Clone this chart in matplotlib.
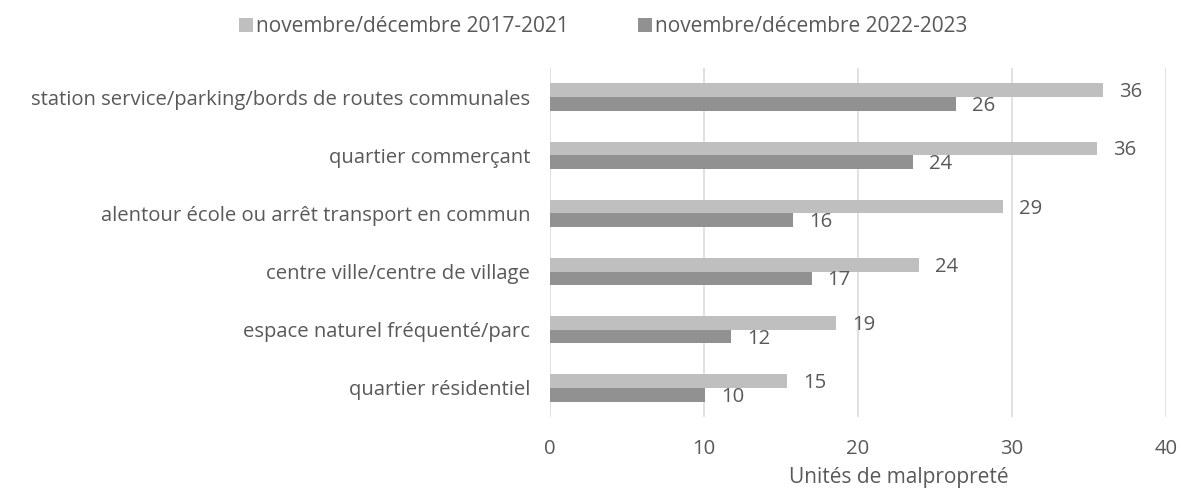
import matplotlib
matplotlib.use("Agg")
import matplotlib.pyplot as plt
from matplotlib.patches import Patch
import numpy as np

categories = [
    "station service/parking/bords de routes communales",
    "quartier commerçant",
    "alentour école ou arrêt transport en commun",
    "centre ville/centre de village",
    "espace naturel fréquenté/parc",
    "quartier résidentiel",
]
series_names = ["novembre/décembre 2017-2021", "novembre/décembre 2022-2023"]
values_2017_2021 = [35.9, 35.5, 29.4, 24.0, 18.6, 15.4]
values_2022_2023 = [26.4, 23.6, 15.8, 17.0, 11.8, 10.1]
xticks = [0, 10, 20, 30, 40]
xlabel = "Unités de malpropreté"

FONT = ["Open Sans", "DejaVu Sans"]
TXT = "#595959"
C_LIGHT = "#BFBFBF"
C_DARK = "#919191"
GRID = "#D9D9D9"
FS = 14.6
plt.rcParams["font.family"] = FONT

W, H = 1181, 491
fig = plt.figure(figsize=(W / 100, H / 100), dpi=100)
ax = fig.add_axes([549.5 / W, 1 - 417 / H, (1166 - 549.5) / W, (417 - 68) / H])

y = np.arange(len(categories))
h = 0.236
b1 = ax.barh(y - h / 2, values_2017_2021, height=h, color=C_LIGHT, zorder=3)
b2 = ax.barh(y + h / 2, values_2022_2023, height=h, color=C_DARK, zorder=3)

for bars, vals in ((b1, values_2017_2021), (b2, values_2022_2023)):
    for rect, v in zip(bars, vals):
        ax.annotate(f"{round(v):d}", xy=(v, rect.get_y() + rect.get_height() / 2),
                    xytext=(16, -2), textcoords="offset pixels",
                    ha="left", va="center", fontsize=FS, color=TXT)

ax.set_xlim(0, 40)
ax.set_ylim(len(categories) - 0.5, -0.5)
ax.set_xticks(xticks)
ax.set_xticklabels([str(t) for t in xticks], fontsize=FS, color=TXT)
ax.set_yticks(y)
ax.set_yticklabels(categories, fontsize=FS, color=TXT)
ax.tick_params(axis="both", length=0)
ax.tick_params(axis="x", pad=16)
ax.tick_params(axis="y", pad=14)
for s in ax.spines.values():
    s.set_visible(False)
ax.grid(axis="x", color=GRID, linewidth=1.1, zorder=0)
ax.set_axisbelow(True)

fig.text(899 / W, 1 - 478 / H, xlabel, ha="center", va="center", fontsize=15, color=TXT)

handles = [Patch(facecolor=C_LIGHT), Patch(facecolor=C_DARK)]
fig.legend(handles, series_names, loc="center", bbox_to_anchor=(603 / W, 1 - 27 / H),
           ncol=2, frameon=False, fontsize=15, labelcolor=TXT,
           handlelength=0.68, handleheight=0.68, handletextpad=0.15, columnspacing=3.3)

fig.savefig("out.png", dpi=100)
